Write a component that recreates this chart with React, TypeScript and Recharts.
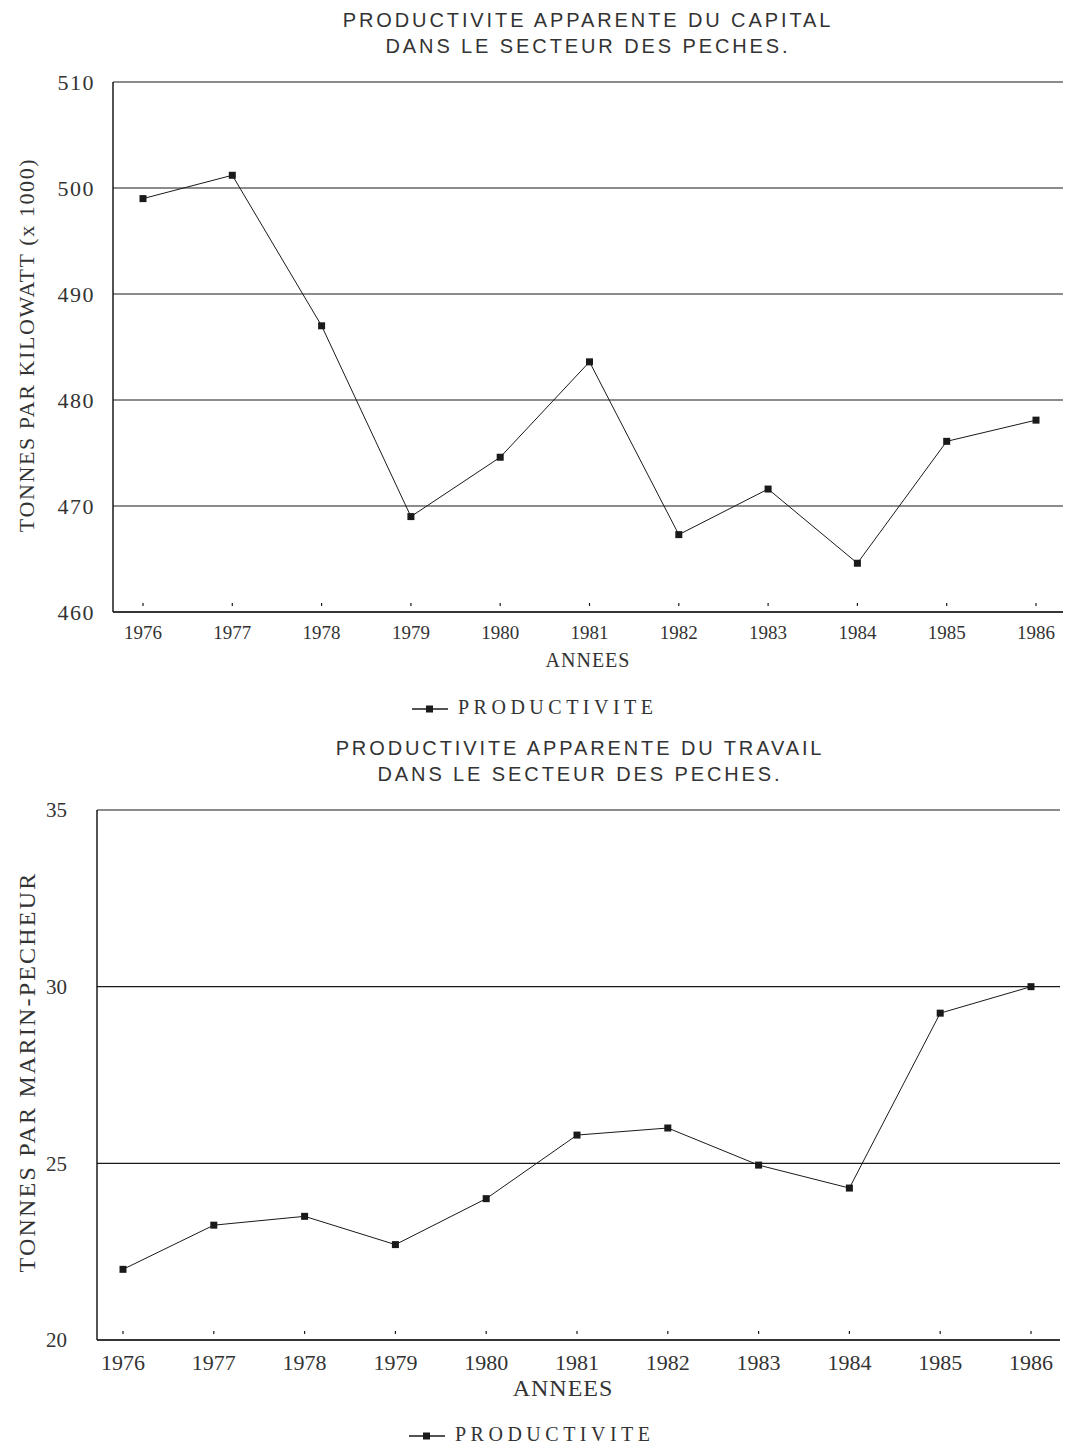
import React from 'react';
import { LineChart, Line, XAxis, YAxis, CartesianGrid, Legend } from 'recharts';

const years = ['1976', '1977', '1978', '1979', '1980', '1981', '1982', '1983', '1984', '1985', '1986'];
const capitalValues = [499.0, 501.2, 487.0, 469.0, 474.6, 483.6, 467.3, 471.6, 464.6, 476.1, 478.1];
const travailValues = [22.0, 23.25, 23.5, 22.7, 24.0, 25.8, 26.0, 24.95, 24.3, 29.25, 30.0];
const capitalTicks = [460, 470, 480, 490, 500, 510];
const travailTicks = [20, 25, 30, 35];

const capitalData = years.map((year, i) => ({ year, value: capitalValues[i] }));
const travailData = years.map((year, i) => ({ year, value: travailValues[i] }));

const INK = '#1a1a1a';
const TEXT = '#333';
const SERIF = '"Liberation Serif", "DejaVu Serif", serif';
const SANS = '"Liberation Sans", Arial, sans-serif';

const SquareDot = (props: any) => {
  const { cx, cy } = props;
  if (cx == null || cy == null) return null;
  return <rect x={cx - 3.5} y={cy - 3.5} width={7} height={7} fill={INK} />;
};

// small inward tick mark plus year label
const makeYearTick = (fontSize: number, offset: number) => (props: any) => {
  const { x, y, payload } = props;
  return (
    <g>
      <line x1={x} x2={x} y1={y - 9} y2={y - 6} stroke={INK} strokeWidth={1.2} />
      <text x={x} y={y + offset} textAnchor="middle" fontSize={fontSize} fontFamily={SERIF} fill={TEXT}>
        {payload.value}
      </text>
    </g>
  );
};

const LegendContent = () => (
  <div style={{ display: 'flex', alignItems: 'center', fontFamily: SERIF, fontSize: 20, color: TEXT, letterSpacing: 4.5, height: 24 }}>
    <svg width={44} height={14}>
      <line x1={4} x2={40} y1={9} y2={9} stroke={INK} strokeWidth={1.5} />
      <rect x={18} y={5.5} width={7} height={7} fill={INK} />
    </svg>
    <span style={{ marginLeft: 6 }}>PRODUCTIVITE</span>
  </div>
);

const titleStyle: React.CSSProperties = {
  position: 'absolute',
  width: 1066,
  textAlign: 'center',
  fontFamily: SANS,
  fontSize: 20,
  letterSpacing: 2.9,
  color: TEXT,
  lineHeight: '26px',
};

const yLabelStyle: React.CSSProperties = {
  position: 'absolute',
  fontFamily: SERIF,
  color: TEXT,
  whiteSpace: 'nowrap',
  transform: 'translate(-50%, -50%) rotate(-90deg)',
};

const xLabelStyle: React.CSSProperties = {
  position: 'absolute',
  fontFamily: SERIF,
  color: TEXT,
  letterSpacing: 1,
  whiteSpace: 'nowrap',
  transform: 'translate(-50%, -50%)',
};

export default function App() {
  return (
    <div style={{ position: 'absolute', top: 0, left: 0, width: 1066, height: 1450, background: '#fff', overflow: 'hidden' }}>
      {/* Chart 1: capital */}
      <div style={{ ...titleStyle, top: 7, left: 55 }}>
        PRODUCTIVITE APPARENTE DU CAPITAL<br />DANS LE SECTEUR DES PECHES.
      </div>
      <div style={{ position: 'absolute', top: 0, left: 0 }}>
        <LineChart width={1066} height={725} data={capitalData} margin={{ top: 82, right: 3, bottom: 59, left: 0 }}>
          <CartesianGrid yAxisId="left" vertical={false} stroke={INK} strokeWidth={1.2} />
          <XAxis
            dataKey="year"
            padding={{ left: 30, right: 27 }}
            axisLine={{ stroke: INK, strokeWidth: 1.5 }}
            tickLine={false}
            tickSize={0}
            tickMargin={0}
            tick={makeYearTick(19, 27)}
            interval={0}
          />
          <YAxis
            yAxisId="left"
            width={113}
            domain={[460, 510]}
            ticks={capitalTicks}
            axisLine={{ stroke: INK, strokeWidth: 1.5 }}
            tickLine={false}
            tickSize={0}
            tickMargin={18}
            tick={{ fontSize: 22, fontFamily: SERIF, fill: TEXT, letterSpacing: 1.5 }}
          />
          <YAxis yAxisId="right" orientation="right" width={0} domain={[460, 510]} axisLine={{ stroke: INK, strokeWidth: 1.5 }} tick={false} tickLine={false} />
          <Legend content={<LegendContent />} wrapperStyle={{ position: 'absolute', top: 695, left: 408, width: 320 }} />
          <Line yAxisId="left" type="linear" dataKey="value" stroke={INK} strokeWidth={1} dot={<SquareDot />} isAnimationActive={false} />
        </LineChart>
      </div>
      <div style={{ ...xLabelStyle, fontSize: 20, left: 588, top: 660 }}>ANNEES</div>
      <div style={{ ...yLabelStyle, fontSize: 22, letterSpacing: 1.6, left: 27, top: 345 }}>TONNES PAR KILOWATT (x 1000)</div>

      {/* Chart 2: travail */}
      <div style={{ ...titleStyle, top: 735, left: 47 }}>
        PRODUCTIVITE APPARENTE DU TRAVAIL<br />DANS LE SECTEUR DES PECHES.
      </div>
      <div style={{ position: 'absolute', top: 730, left: 0 }}>
        <LineChart width={1066} height={720} data={travailData} margin={{ top: 80, right: 6, bottom: 56, left: 0 }}>
          <CartesianGrid yAxisId="left" vertical={false} stroke={INK} strokeWidth={1.2} />
          <XAxis
            dataKey="year"
            padding={{ left: 26, right: 29 }}
            axisLine={{ stroke: INK, strokeWidth: 1.5 }}
            tickLine={false}
            tickSize={0}
            tickMargin={0}
            tick={makeYearTick(22, 30)}
            interval={0}
          />
          <YAxis
            yAxisId="left"
            width={97}
            domain={[20, 35]}
            ticks={travailTicks}
            axisLine={{ stroke: INK, strokeWidth: 1.5 }}
            tickLine={false}
            tickSize={0}
            tickMargin={30}
            tick={{ fontSize: 21, fontFamily: SERIF, fill: TEXT }}
          />
          <YAxis yAxisId="right" orientation="right" width={0} domain={[20, 35]} axisLine={{ stroke: INK, strokeWidth: 1.5 }} tick={false} tickLine={false} />
          <Legend content={<LegendContent />} wrapperStyle={{ position: 'absolute', top: 692, left: 405, width: 320 }} />
          <Line yAxisId="left" type="linear" dataKey="value" stroke={INK} strokeWidth={1} dot={<SquareDot />} isAnimationActive={false} />
        </LineChart>
      </div>
      <div style={{ ...xLabelStyle, fontSize: 24, left: 563, top: 1388 }}>ANNEES</div>
      <div style={{ ...yLabelStyle, fontSize: 24, letterSpacing: 2.2, left: 27, top: 1072 }}>TONNES PAR MARIN-PECHEUR</div>
    </div>
  );
}
